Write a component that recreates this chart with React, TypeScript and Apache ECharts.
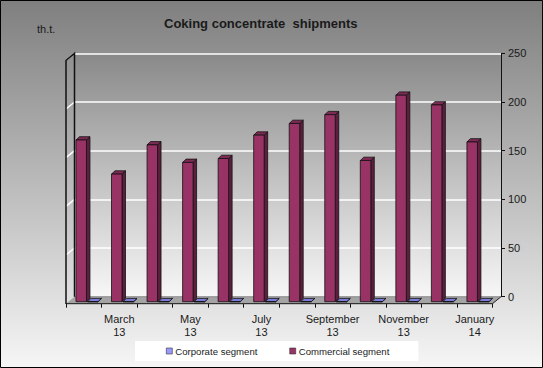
import React, { useEffect, useRef } from "react";
import * as echarts from "echarts";

const months = ["February", "March", "April", "May", "June", "July", "August", "September", "October", "November", "December", "January"];
const years = ["13", "13", "13", "13", "13", "13", "13", "13", "13", "13", "13", "14"];
const commercial = [166, 131, 161, 143, 147, 171, 183, 192, 145, 212, 202, 164];
const corporate = [0, 0, 0, 0, 0, 0, 0, 0, 0, 0, 0, 0];
const valueTicks = [0, 50, 100, 150, 200, 250];
const seriesNames = ["Corporate segment", "Commercial segment"];

const FONT = "Liberation Sans, Arial, sans-serif";

export default function App() {
  const ref = useRef<HTMLDivElement>(null);
  useEffect(() => {
    document.body.style.margin = "0";
    const chart = echarts.init(ref.current!, null, { renderer: "svg" });
    const categories = months.map((m, i) => m + "\n" + years[i]);
    const yMax = valueTicks[valueTicks.length - 1];
    const DX = -8.5, DY = 7; // wall depth (back -> front)
    const BDX = 3.5, BDY = -3.3; // bar depth

    const makeBar = (startF: number, endF: number, front: string, top: string, side: string) =>
      (params: any, api: any) => {
        const i = api.value(0);
        const v = api.value(1);
        const t = api.coord([i, v]);
        const b = api.coord([i, 0]);
        const w = api.size([1, 0])[0];
        const x0 = t[0] + startF * w;
        const x1 = t[0] + endF * w;
        const yT = t[1];
        const yB = b[1];
        const st = { stroke: "#111", lineWidth: 0.8 };
        return {
          type: "group",
          children: [
            { type: "polygon", shape: { points: [[x1, yT], [x1 + BDX, yT + BDY], [x1 + BDX, yB + BDY], [x1, yB]] }, style: { fill: side, ...st } },
            { type: "polygon", shape: { points: [[x0, yT], [x1, yT], [x1 + BDX, yT + BDY], [x0 + BDX, yT + BDY]] }, style: { fill: top, ...st } },
            { type: "rect", shape: { x: x0, y: yT, width: x1 - x0, height: yB - yT }, style: { fill: front, ...st } },
          ],
        };
      };

    const frame = (params: any, api: any) => {
      const w = api.size([1, 0])[0];
      const c0 = api.coord([0, 0]);
      const cN = api.coord([months.length - 1, 0]);
      const lx = c0[0] - w / 2;
      const rx = cN[0] + w / 2;
      const y0 = c0[1];
      const yTop = api.coord([0, yMax])[1];
      const children: any[] = [
        { type: "polygon", shape: { points: [[lx, y0], [rx, y0], [rx + DX, y0 + DY], [lx + DX, y0 + DY]] }, style: { fill: "#a4a4a4" } },
        { type: "polyline", shape: { points: [[lx + DX, y0 + DY], [rx + DX, y0 + DY], [rx, y0]] }, style: { stroke: "#222", lineWidth: 1, fill: "none" } },
        { type: "line", shape: { x1: lx, y1: y0, x2: rx, y2: y0 }, style: { stroke: "#777", lineWidth: 0.8 } },
      ];
      valueTicks.forEach((v) => {
        if (v === 0) return;
        const y = api.coord([0, v])[1];
        children.push({ type: "line", shape: { x1: lx, y1: y, x2: lx + DX, y2: y + DY }, style: { stroke: "#fff", lineWidth: 1.5 } });
      });
      children.push({ type: "polyline", shape: { points: [[lx + DX, y0 + DY], [lx + DX, yTop + DY], [lx, yTop], [lx, y0]] }, style: { stroke: "#111", lineWidth: 1.5, fill: "none" } });
      return { type: "group", children };
    };

    chart.setOption({
      animation: false,
      backgroundColor: {
        type: "linear", x: 0, y: 0, x2: 0, y2: 1,
        colorStops: [{ offset: 0, color: "#7f7f7f" }, { offset: 1, color: "#f6f6f6" }],
      },
      title: {
        text: "Coking concentrate  shipments",
        left: 159, top: 12,
        textStyle: { fontFamily: FONT, fontSize: 13, fontWeight: "bold", color: "#1a1a1a" },
      },
      graphic: [
        { type: "text", left: 37, top: 23, style: { text: "th.t.", fontFamily: FONT, fontSize: 11, fill: "#1a1a1a" } },
        { type: "rect", shape: { x: 0.5, y: 0.5, width: 542, height: 367 }, style: { fill: "none", stroke: "#000", lineWidth: 1 }, z: 100 },
      ],
      legend: {
        data: seriesNames,
        bottom: 7, left: 135,
        backgroundColor: "#ffffff",
        padding: [5, 29, 5, 31],
        itemGap: 32,
        icon: "rect",
        itemWidth: 6, itemHeight: 6,
        itemStyle: { borderColor: "#333", borderWidth: 0.6 },
        textStyle: { fontFamily: FONT, fontSize: 9.6, color: "#222", padding: [0, 0, 0, -2] },
      },
      grid: [
        {
          left: 74.5, right: 42, top: 53.3, bottom: 71.3, show: true, borderWidth: 0,
          backgroundColor: {
            type: "linear", x: 0, y: 0, x2: 0, y2: 1,
            colorStops: [{ offset: 0, color: "#898989" }, { offset: 1, color: "#f7f7f7" }],
          },
        },
        { left: 68.4, right: 48.1, top: 58.2, bottom: 66.3 },
        { left: 66, right: 50.5, top: 60.3, bottom: 64.3 },
      ],
      xAxis: [
        { type: "category", data: categories, gridIndex: 0, show: false },
        { type: "category", data: categories, gridIndex: 1, show: false },
        {
          type: "category", data: categories, gridIndex: 2,
          axisLine: { lineStyle: { color: "#111", width: 1 } },
          axisTick: { show: true, interval: 0, length: 4, lineStyle: { color: "#111" } },
          axisLabel: {
            interval: (index: number) => index % 2 === 1,
            margin: 9, fontFamily: FONT, fontSize: 11, color: "#1a1a1a", lineHeight: 13,
          },
        },
      ],
      yAxis: [
        {
          type: "value", gridIndex: 0, position: "right", min: 0, max: yMax, interval: 50,
          axisLine: { show: true, lineStyle: { color: "#111", width: 1 } },
          axisTick: { show: true, length: 4, lineStyle: { color: "#111" } },
          axisLabel: { margin: 7, fontFamily: FONT, fontSize: 11, color: "#1a1a1a" },
          splitLine: { show: true, lineStyle: { color: "#ffffff", width: 1.6 } },
        },
        { type: "value", gridIndex: 1, min: 0, max: yMax, interval: 50, show: false, splitLine: { show: false } },
        { type: "value", gridIndex: 2, min: 0, max: yMax, interval: 50, show: false, splitLine: { show: false } },
      ],
      series: [
        {
          type: "custom", name: "frame", xAxisIndex: 0, yAxisIndex: 0, z: 1, silent: true,
          data: [[0, 0]], renderItem: frame,
        },
        {
          type: "custom", name: seriesNames[0], xAxisIndex: 1, yAxisIndex: 1, z: 3,
          itemStyle: { color: "#9999ff" },
          data: corporate.map((v, i) => [i, v]),
          renderItem: makeBar(0.037, 0.332, "#9999ff", "#7b7bdc", "#5c5cb0"),
        },
        {
          type: "custom", name: seriesNames[1], xAxisIndex: 1, yAxisIndex: 1, z: 4,
          itemStyle: { color: "#993366" },
          data: commercial.map((v, i) => [i, v]),
          renderItem: makeBar(-0.287, 0.008, "#993366", "#7e2a55", "#5e1f3f"),
        },
      ],
    });
    return () => chart.dispose();
  }, []);
  return <div ref={ref} style={{ width: 543, height: 368 }} />;
}
